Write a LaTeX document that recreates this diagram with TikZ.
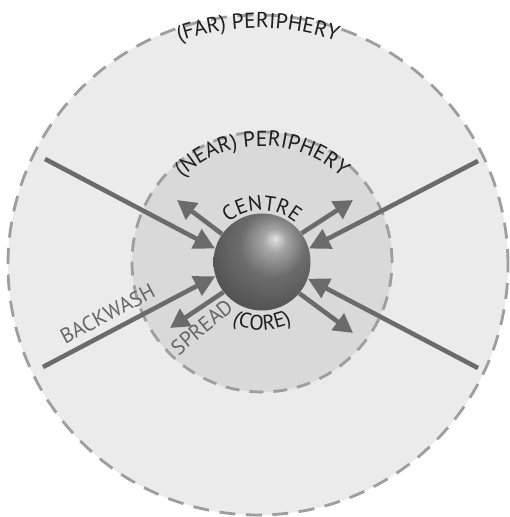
\documentclass[tikz,border=0pt]{standalone}
\usepackage{xcolor}
\usepackage{fontspec}
\setmainfont{PT Sans}
\usepackage{tikz}
\usetikzlibrary{arrows.meta, decorations.text}
\definecolor{farfill}{HTML}{EBEBEB}
\definecolor{nearfill}{HTML}{D9D9D9}
\definecolor{zonedash}{HTML}{9E9E9E}
\definecolor{flowgray}{HTML}{6B6B6B}
\definecolor{lbldark}{HTML}{1E1E1E}
\definecolor{lblgray}{HTML}{666666}
\definecolor{corehi}{HTML}{E2E2E2}
\definecolor{corelight}{HTML}{A4A4A4}
\definecolor{coremid}{HTML}{6C6C6C}
\definecolor{coreshadow}{HTML}{4C4C4C}
\definecolor{coredark}{HTML}{2C2C2C}
\pgfdeclareradialshading{coreshade}{\pgfpoint{7bp}{12bp}}{color(0bp)=(corehi); color(6bp)=(corelight); color(17bp)=(coremid); color(36bp)=(coreshadow); color(60bp)=(coredark); color(72bp)=(coredark)}
\newcommand{\zonefont}{\fontsize{12.3}{14}\selectfont}
\newcommand{\corefont}{\fontsize{12}{14}\selectfont}
\tikzset{
	zone/.style={draw=zonedash, line width=1.6pt, dash pattern=on 0.32cm off 0.21cm},
	backarr/.style={draw=flowgray, line width=2.6pt, -{Triangle[length=0.42cm, width=0.42cm]}},
	spreadarr/.style={draw=flowgray, line width=2.6pt, -{Triangle[length=0.38cm, width=0.4cm]}},
	flowlbl/.style={font=\fontsize{12}{14}\selectfont, text=lblgray, inner sep=1pt},
	arclbl/.style={decorate, decoration={text along path, text align=center, text color=lbldark, text={#1}}},
}

\begin{document}
\begin{tikzpicture}
	\useasboundingbox[fill=white] (-5.24,-5.10) rectangle (4.94,5.24);
	\begin{scope}[shift={(-0.08,-0.06)}]
		\path[zone, fill=farfill] (0,0) circle[radius=5.0];
		\path[arclbl={|\zonefont|(FAR) PERIPHERY}] (115:4.74) arc[start angle=115, end angle=65, radius=4.74];
	\end{scope}
	\path[zone, fill=nearfill, dash pattern=on 0.28cm off 0.2cm] (0,0) circle[radius=2.6];
	\path[arclbl={|\zonefont|(NEAR) PERIPHERY}] (137:2.32) arc[start angle=137, end angle=43, radius=2.32];

	\node[circle, shade, shading=coreshade, minimum size=1.94cm, inner sep=0pt] (core) at (0,0) {};
	\path[arclbl={|\corefont|CENTRE}] (140:1.03) arc[start angle=140, end angle=40, radius=1.03];
	\path[arclbl={|\corefont|(CORE)}] (226:1.36) arc[start angle=226, end angle=314, radius=1.36];

	\coordinate (bwnw) at (-4.34,2.06);
	\coordinate (bwne) at (4.32,2.02);
	\coordinate (bwsw) at (-4.38,-2.10);
	\coordinate (bwse) at (4.32,-2.12);
	\coordinate (spnw) at (-1.70,1.24);
	\coordinate (spne) at (1.82,1.24);
	\coordinate (spsw) at (-1.84,-1.32);
	\coordinate (spse) at (1.82,-1.42);

	\draw[backarr] (bwnw) -- (core.164);
	\draw[backarr] (bwne) -- (core.16);
	\draw[backarr] (bwsw) -- (core.197) node[flowlbl, pos=0.42, sloped, above=3pt] (bwlbl) {BACKWASH};
	\draw[backarr] (bwse) -- (core.340);

	\draw[spreadarr] (core.145) -- (spnw);
	\draw[spreadarr] (core.36) -- (spne);
	\draw[spreadarr] (core.218) -- (spsw) node[flowlbl, pos=0.6, sloped, below=3pt, rotate=6] (splbl) {SPREAD};
	\draw[spreadarr] (core.320) -- (spse);
\end{tikzpicture}
\end{document}
